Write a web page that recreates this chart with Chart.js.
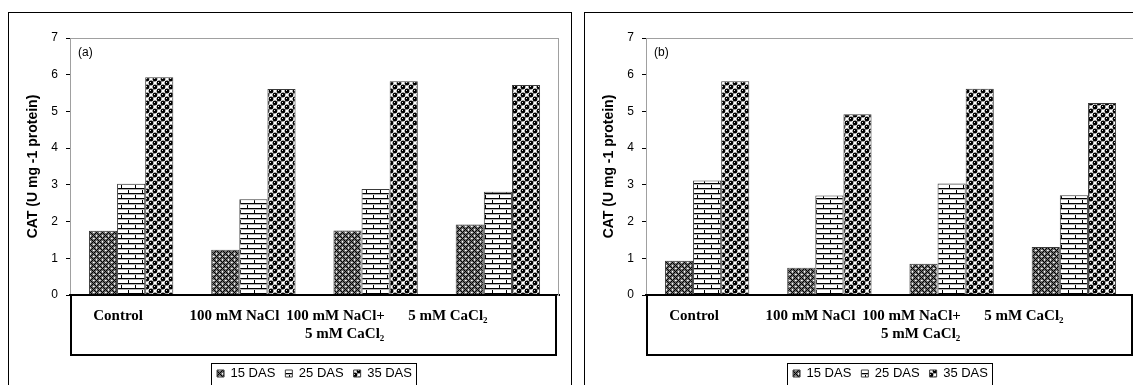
<!DOCTYPE html>
<html lang="en">
<head>
<meta charset="UTF-8">
<title>CAT activity</title>
<script src="https://cdn.jsdelivr.net/npm/chart.js"></script>
<style>
  html, body { margin: 0; padding: 0; background: #fff; }
  body { width: 1133px; height: 385px; overflow: hidden; position: relative; }
  .panel { position: absolute; top: 12px; width: 564px; height: 400px; border: 1px solid #000; box-sizing: border-box; }
  #pa { left: 8px; }
  #pb { left: 584px; }
</style>
</head>
<body>
  <div class="panel" id="pa"><canvas id="chartA" width="562" height="398"></canvas></div>
  <div class="panel" id="pb"><canvas id="chartB" width="562" height="398"></canvas></div>

<script>
  const categories = ['Control', '100 mM NaCl', ['100 mM NaCl+', '5 mM CaCl\u2082'], '5 mM CaCl\u2082'];
  const seriesNames = ['15 DAS', '25 DAS', '35 DAS'];

  // panel (a)
  const das15A = [1.75, 1.23, 1.76, 1.92];
  const das25A = [3.03, 2.61, 2.89, 2.81];
  const das35A = [5.93, 5.61, 5.82, 5.72];
  // panel (b)
  const das15B = [0.93, 0.74, 0.85, 1.31];
  const das25B = [3.12, 2.71, 3.04, 2.72];
  const das35B = [5.82, 4.92, 5.62, 5.23];

  const yMin = 0, yMax = 7, yStep = 1;

  // label nudges (px) so the names sit like the original table row
  const labelShift = [[-13], [-19], [-40, -31], [-50]];

  function tile(w, h, draw) {
    const c = document.createElement('canvas');
    c.width = w; c.height = h;
    const g = c.getContext('2d');
    draw(g);
    return g.createPattern(c, 'repeat');
  }

  // 15 DAS: dark diamond lattice
  const pat15 = tile(6, 6, g => {
    g.fillStyle = '#6e6e6e'; g.fillRect(0, 0, 6, 6);
    for (let x = 0; x < 6; x++) {
      for (let y = 0; y < 6; y++) {
        if ((x + y) % 6 === 0 || (x - y + 6) % 6 === 0) { g.fillStyle = '#000'; g.fillRect(x, y, 1, 1); }
      }
    }
    g.fillStyle = '#fff';
    g.fillRect(3, 0, 1, 1); g.fillRect(0, 3, 1, 1);
    g.fillStyle = '#c8c8c8';
    g.fillRect(3, 1, 1, 1); g.fillRect(1, 3, 1, 1);
  });

  // 25 DAS: bricks
  const pat25 = tile(14, 10, g => {
    g.fillStyle = '#fff'; g.fillRect(0, 0, 14, 10);
    g.fillStyle = '#000';
    g.fillRect(0, 0, 14, 1); g.fillRect(0, 5, 14, 1);
    g.fillRect(0, 0, 1, 5); g.fillRect(7, 5, 1, 5);
    g.fillStyle = '#b0b0b0';
    g.fillRect(0, 1, 14, 1); g.fillRect(0, 6, 14, 1);
  });

  // 35 DAS: black balls on a checker
  const pat35 = tile(8, 8, g => {
    g.fillStyle = '#fff'; g.fillRect(0, 0, 8, 8);
    g.fillStyle = '#9a9a9a';
    g.fillRect(4, 0, 1, 1); g.fillRect(0, 4, 1, 1);
    g.fillStyle = '#000';
    [[2, 2], [6, 6], [-2, 6], [6, -2], [-2, -2], [2, 10], [10, 2], [10, 10]].forEach(p => {
      g.beginPath(); g.arc(p[0], p[1], 2.4, 0, Math.PI * 2); g.fill();
    });
    g.fillStyle = '#ddd';
    g.fillRect(1, 1, 1, 1); g.fillRect(5, 5, 1, 1);
  });

  const patterns = [pat15, pat25, pat35];

  const framePlugin = {
    id: 'frame',
    afterLayout(chart) {
      // center the legend under the plot area
      const lg = chart.legend, ca = chart.chartArea;
      const dx = (ca.left + ca.right) / 2 - (lg.left + lg.right) / 2;
      lg.left += dx; lg.right += dx;
    },
    beforeDatasetsDraw(chart) {
      const { ctx, chartArea: ca } = chart;
      ctx.save();
      ctx.strokeStyle = '#a0a0a0';
      ctx.lineWidth = 1;
      ctx.strokeRect(ca.left + 0.5, ca.top + 0.5, ca.right - ca.left - 1, ca.bottom - ca.top);
      ctx.restore();
    },
    afterDraw(chart, args, opts) {
      const { ctx, chartArea: ca } = chart;
      const xs = chart.scales.x;
      ctx.save();
      // category table box
      ctx.strokeStyle = '#000';
      ctx.lineWidth = 2;
      ctx.strokeRect(ca.left + 1, ca.bottom, ca.right - ca.left - 4, 60);
      // category names
      ctx.fillStyle = '#000';
      ctx.font = 'bold 15px "Liberation Serif", "Times New Roman", serif';
      ctx.textAlign = 'center';
      ctx.textBaseline = 'middle';
      chart.data.labels.forEach((lab, i) => {
        const lines = Array.isArray(lab) ? lab : [lab];
        lines.forEach((t, j) => {
          ctx.fillText(t, xs.getPixelForValue(i) + labelShift[i][j], ca.bottom + 21 + j * 18);
        });
      });
      // panel tag
      ctx.font = '12px Arial, "Liberation Sans", sans-serif';
      ctx.textAlign = 'left';
      ctx.fillText(opts.tag, ca.left + 8, ca.top + 15);
      // legend frame
      const hb = chart.legend.legendHitBoxes;
      if (hb && hb.length) {
        const l = Math.min(...hb.map(h => h.left)) - 6;
        const r = Math.max(...hb.map(h => h.left + h.width)) + 4;
        const t = Math.min(...hb.map(h => h.top)) - 4;
        ctx.lineWidth = 1;
        ctx.strokeRect(Math.round(l) + 0.5, Math.round(t) + 0.5, Math.round(r - l), 60);
      }
      ctx.restore();
    }
  };

  function makeChart(id, tag, d15, d25, d35) {
    const vals = [d15, d25, d35];
    return new Chart(document.getElementById(id), {
      type: 'bar',
      data: {
        labels: categories,
        datasets: seriesNames.map((name, k) => ({
          label: name,
          data: vals[k],
          backgroundColor: patterns[k],
          borderColor: '#3a3a3a',
          borderWidth: 1,
          categoryPercentage: 0.69,
          barPercentage: 1.0
        }))
      },
      options: {
        responsive: false,
        animation: false,
        layout: { padding: { left: 0, right: 12, top: 25, bottom: 21 } },
        plugins: {
          tooltip: { enabled: false },
          frame: { tag: tag },
          legend: {
            position: 'bottom',
            labels: {
              boxWidth: 7,
              boxHeight: 7,
              padding: 10,
              color: '#000',
              font: { family: 'Arial, "Liberation Sans", sans-serif', size: 13 }
            }
          }
        },
        scales: {
          x: {
            grid: { display: false },
            border: { display: true, color: '#000', width: 2 },
            ticks: { display: false },
            afterFit(s) { s.height = 62; }
          },
          y: {
            min: yMin,
            max: yMax,
            ticks: {
              stepSize: yStep,
              padding: 8,
              color: '#000',
              font: { family: 'Arial, "Liberation Sans", sans-serif', size: 12 }
            },
            grid: { drawOnChartArea: false, drawTicks: true, tickLength: 4, color: '#000' },
            border: { display: true, color: '#000', width: 1 },
            title: {
              display: true,
              text: 'CAT (U mg -1 protein)',
              color: '#000',
              padding: { top: 16, bottom: 0 },
              font: { family: 'Arial, "Liberation Sans", sans-serif', size: 14, weight: 'bold' }
            },
            afterFit(s) { s.width = 61; }
          }
        }
      },
      plugins: [framePlugin]
    });
  }

  makeChart('chartA', '(a)', das15A, das25A, das35A);
  makeChart('chartB', '(b)', das15B, das25B, das35B);
</script>
</body>
</html>
